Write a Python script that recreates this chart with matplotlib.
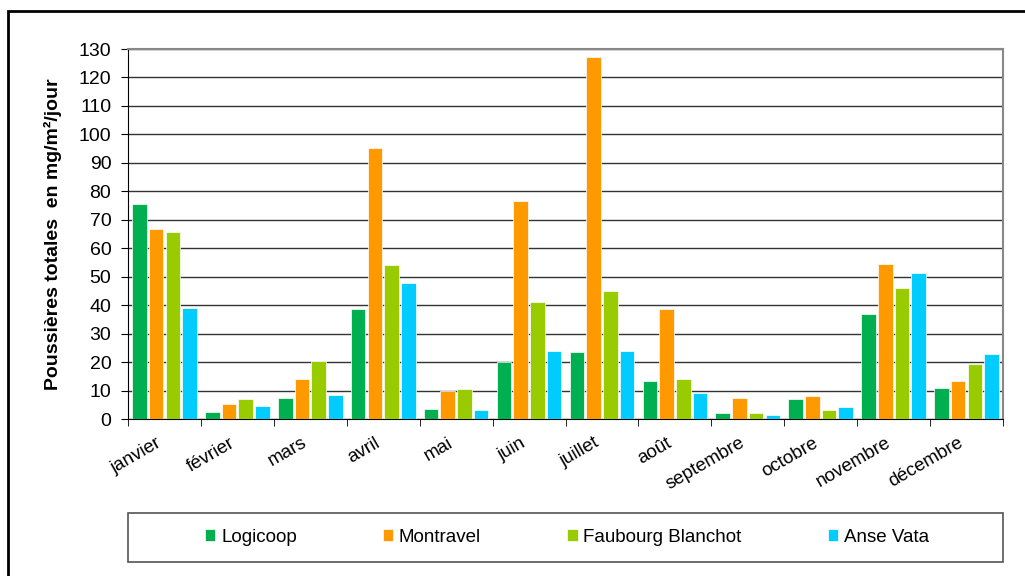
import numpy as np
import matplotlib.pyplot as plt
from matplotlib.patches import Rectangle

plt.rcParams['font.family'] = ['Liberation Sans', 'DejaVu Sans']

""" data """
mois = ['janvier', 'février', 'mars', 'avril', 'mai', 'juin', 'juillet',
        'août', 'septembre', 'octobre', 'novembre', 'décembre']
logicoop = [75.5, 2.3, 7.4, 38.8, 3.6, 20.1, 23.4, 13.2, 2.0, 7.1, 36.9, 11.0]
montravel = [66.9, 5.3, 14.2, 95.1, 9.7, 76.5, 127.3, 38.7, 7.4, 8.1, 54.5, 13.2]
faubourg = [65.7, 7.1, 20.3, 54.1, 10.4, 41.0, 44.9, 14.1, 2.0, 3.3, 46.1, 19.2]
anse_vata = [39.0, 4.6, 8.4, 47.8, 3.0, 23.8, 23.8, 9.0, 1.3, 4.2, 51.2, 22.8]
series = ['Logicoop', 'Montravel', 'Faubourg Blanchot', 'Anse Vata']
couleurs = ['#00B050', '#FF9900', '#99CC00', '#00CCFF']

""" figure """
fig = plt.figure(figsize=(10.25, 5.76), dpi=100)
ax = fig.add_axes([128/1025, 1-419/576, 875/1025, 370/576])

x = np.arange(len(mois))
stride = 0.229
width = 0.2
for i, (vals, nom, c) in enumerate(zip([logicoop, montravel, faubourg, anse_vata], series, couleurs)):
    ax.bar(x + (i - 1.5)*stride, vals, width, color=c, edgecolor='white',
           linewidth=0.5, label=nom, zorder=3)

ax.set_xlim(-0.5, len(mois) - 0.5)
ax.set_ylim(0, 130)
ax.set_yticks(np.arange(0, 131, 10))
ax.grid(axis='y', color='#333333', linewidth=1, zorder=0)
ax.tick_params(axis='y', labelsize=14, length=5, direction='out', pad=7)

# ticks between months, labels at centers
ax.set_xticks(x)
ax.set_xticklabels(mois, rotation=30, ha='right', fontsize=13.5)
ax.set_xticks(np.arange(-0.5, len(mois), 1), minor=True)
ax.tick_params(axis='x', which='major', length=0, pad=11)
ax.tick_params(axis='x', which='minor', length=5, direction='out')

for s in ['top', 'right']:
    ax.spines[s].set_color('#888888')
    ax.spines[s].set_linewidth(1.5)
ax.spines['left'].set_color('black')
ax.spines['bottom'].set_color('black')

ax.set_ylabel('Poussières totales  en mg/m²/jour', fontsize=14, fontweight='bold', labelpad=12)

# legend box below the chart
fig.patches.append(Rectangle((128/1025, 1-562/576), 875/1025, 49/576,
                             transform=fig.transFigure, fill=False,
                             edgecolor='#555555', linewidth=1.2))
leg = fig.legend(loc='center', ncol=4, bbox_to_anchor=(567/1025, 1-537/576),
                 fontsize=13.5, frameon=False,
                 handlelength=0.55, handleheight=0.55, handletextpad=0.3,
                 columnspacing=4.6)

# outer frame of the picture
fig.patches.append(Rectangle((8/1025, -0.05), 1.1, 1 - 11/576 + 0.05,
                             transform=fig.transFigure, fill=False,
                             edgecolor='black', linewidth=2))

fig.savefig('out.png', dpi=100)
